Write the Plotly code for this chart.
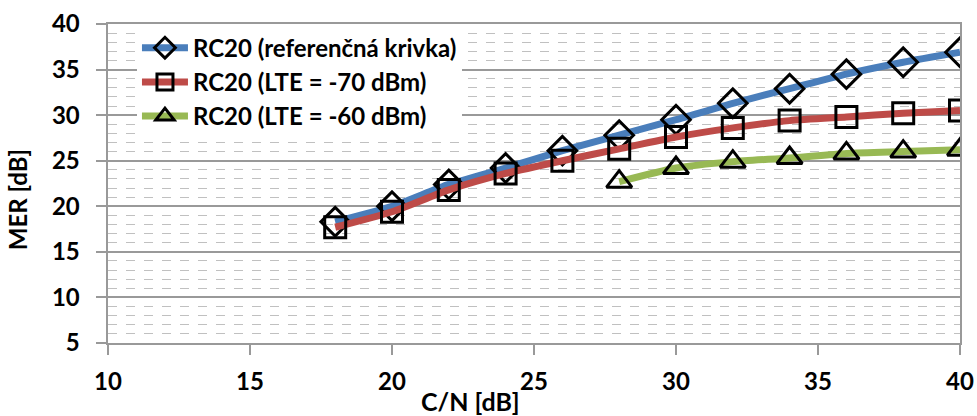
import plotly.graph_objects as go

cn = [18, 20, 22, 24, 26, 28, 30, 32, 34, 36, 38, 40]
mer_ref = [18.3, 20.0, 22.4, 24.2, 26.1, 27.8, 29.5, 31.3, 32.9, 34.5, 35.8, 36.9]
mer_70 = [17.7, 19.4, 21.8, 23.6, 25.0, 26.3, 27.6, 28.6, 29.4, 29.8, 30.2, 30.5]
cn_60 = [28, 30, 32, 34, 36, 38, 40]
mer_60 = [22.7, 24.2, 24.9, 25.3, 25.8, 26.0, 26.2]
names = ["RC20 (referenčná krivka)", "RC20 (LTE = -70 dBm)", "RC20 (LTE = -60 dBm)"]
colors = ["#4A7EBB", "#BE4B48", "#98B954"]
symbols = ["diamond-open", "square-open", "triangle-up-open"]
sizes = [22, 21, 22]

FONT = "Lato"
fig = go.Figure()
for xs, ys, nm, col, sym, sz in [(cn, mer_ref, names[0], colors[0], symbols[0], sizes[0]),
                                 (cn, mer_70, names[1], colors[1], symbols[1], sizes[1]),
                                 (cn_60, mer_60, names[2], colors[2], symbols[2], sizes[2])]:
    fig.add_trace(go.Scatter(
        x=xs, y=ys, name=nm, mode="lines+markers",
        line=dict(color=col, width=7, shape="spline", smoothing=0.6),
        marker=dict(symbol=sym, size=sz, color="black", line=dict(color="black", width=3)),
    ))

axis_common = dict(
    showline=True, linecolor="#999999", linewidth=1.5, mirror=True,
    ticks="outside", ticklen=10, tickcolor="#999999", tickwidth=1.5,
    tickfont=dict(family=FONT, size=24, color="black", weight="bold"),
    zeroline=False, automargin=False,
)
fig.update_xaxes(range=[10, 40], dtick=5, showgrid=False, ticklabelstandoff=6, **axis_common)
fig.update_yaxes(range=[5, 40], dtick=5, showgrid=True, gridcolor="#999999", gridwidth=1.5,
                 ticksuffix="\u00a0\u00a0",
                 minor=dict(dtick=1, showgrid=True, gridcolor="#C0C0C0", griddash="dash", gridwidth=1),
                 **axis_common)

# white backdrop behind the legend (covers gridlines, below traces)
fig.add_shape(type="rect", xref="paper", yref="paper", x0=0.002, x1=0.448, y0=0.70, y1=0.995,
              fillcolor="white", line_width=0, layer="between")

fig.add_annotation(text="MER [dB]", xref="paper", yref="paper", x=-0.106, y=0.45,
                   textangle=-90, showarrow=False, xanchor="center", yanchor="middle",
                   font=dict(family=FONT, size=24, color="black", weight="bold"))
fig.add_annotation(text="C/N [dB]", xref="paper", yref="paper", x=0.425, y=-0.13,
                   showarrow=False, yanchor="top",
                   font=dict(family=FONT, size=25, color="black", weight="bold"))

fig.update_layout(
    width=977, height=416,
    margin=dict(l=108, r=17, t=24, b=73),
    plot_bgcolor="white", paper_bgcolor="white",
    showlegend=True,
    legend=dict(x=0.034, y=0.995, xanchor="left", yanchor="top",
                bgcolor="white", font=dict(family=FONT, size=24, color="black", weight="bold"),
                itemwidth=46, tracegroupgap=0),
)
fig.write_html("out.html", config={"displayModeBar": False},
               post_script="document.body.style.margin='0';")
